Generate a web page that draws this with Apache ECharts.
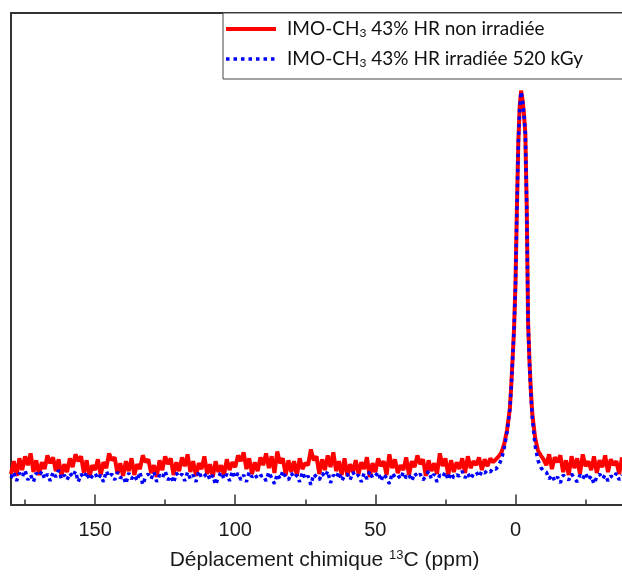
<!DOCTYPE html>
<html><head><meta charset="utf-8">
<script src="https://cdn.jsdelivr.net/npm/echarts@6/dist/echarts.min.js"></script>
<style>html,body{margin:0;padding:0;background:#fff}#c{width:622px;height:576px}</style>
</head><body><div id="c"></div>
<script>
// Chemical shift (ppm) sampling of the baseline noise
var leftStartPpm = 180;   // left baseline goes 180 -> 8 ppm, 1 ppm apart
var rightStartPpm = -11;  // right baseline goes -11 -> -38 ppm, 1 ppm apart
var peakPpm = [7,6,5,4,3,2,1.5,1,0.5,0,-0.5,-1,-1.5,-2,-2.5,-3,-3.5,-4,-4.5,-5,-5.5,-6,-7,-8,-9,-10];

var redLeft = [31,44,29,47,35,49,40,52,33,45, 30,43,36,50,42,48,34,46,29,41, 33,47,38,51,44,49,32,45,28,40,
  35,46,30,43,37,52,45,48,31,42, 29,44,34,47,30,41,36,50,43,46, 32,40,28,45,35,49,41,47,30,43,
  34,48,39,51,33,44,29,42,36,49, 31,41,28,44,33,40,30,46,35,43, 38,50,44,53,36,47,31,43,34,48,
  40,52,37,49,32,54,42,47,30,45, 33,44,29,47,36,42,40,56,45,49, 31,46,35,50,38,53,34,44,30,47,
  29,41,33,45,31,43,36,48,28,42, 33,47,39,44,30,51,37,46,32,40, 35,48,30,44,38,50,41,46,29,45,
  34,42,31,52,39,47,30,45,33,43, 36,47,32,49,37,44,40,48,35,46, 39,47,43];
var redPeak = [46,49,53,62,76,98,122,150,180,225,300,368,405,421,412,398,378,305,185,145,115,92,68,55,50,46];
var redRight = [40,51,36,48,43,50,33,45,30,49, 37,47,31,51,39,44,35,49,32,45, 38,50,33,46,40,44,31,48];

var blueLeft = [27,33,24,32,28,35,25,30,23,32, 29,34,26,31,24,33,28,35,26,30, 25,32,28,34,23,31,27,33,25,29,
  32,26,30,23,34,28,31,25,33,27, 29,21,32,26,30,24,33,20,28,31, 26,33,23,30,27,34,25,29,22,32,
  28,31,24,33,26,30,23,34,27,29, 32,25,30,20,28,33,26,31,24,34, 27,32,25,30,23,33,28,31,26,29,
  30,24,33,27,21,31,26,34,28,25, 32,27,30,23,33,26,29,20,31,28, 25,32,28,34,22,30,27,33,24,29,
  31,25,33,28,30,23,32,26,34,27, 29,33,24,31,27,21,32,28,30,26, 33,27,30,24,32,28,31,25,29,34,
  26,31,23,30,28,33,25,32,27,30, 29,34,27,32,26,31,33,28,34,32, 35,33,37];
var bluePeak = [36,40,46,58,74,97,121,149,179,224,299,367,404,420,411,397,377,304,184,143,112,88,60,45,38,34];
var blueRight = [33,26,30,24,28,22,30,27,25,31, 27,23,30,26,32,25,29,21,28,31, 26,30,24,29,27,32,25,30];

var majorTicks = [150, 100, 50, 0];
var minorTicks = [175, 125, 75, 25, -25];
var seriesNames = ['IMO-CH3 43% HR non irradiée', 'IMO-CH3 43% HR irradiée 520 kGy'];

function build(left, peak, right) {
  var d = [];
  left.forEach(function (v, i) { d.push([leftStartPpm - i, v]); });
  peak.forEach(function (v, i) { d.push([peakPpm[i], v]); });
  right.forEach(function (v, i) { d.push([rightStartPpm - i, v]); });
  return d;
}

var chart = echarts.init(document.getElementById('c'), null, {renderer: 'canvas'});
var axisCol = '#333';
var baseX = {type: 'value', inverse: true, min: -38, max: 180, gridIndex: 0, splitLine: {show: false}};
chart.setOption({
  animation: false,
  backgroundColor: '#fff',
  grid: {left: 11, right: -3, top: 13, bottom: 63},
  legend: {
    left: 223, top: 13, orient: 'vertical',
    backgroundColor: '#fff', borderColor: '#444', borderWidth: 1,
    padding: [6, 100, 10, 1], itemGap: 10, itemWidth: 50, itemHeight: 14,
    itemStyle: {opacity: 0},
    data: [
      {name: seriesNames[0], lineStyle: {width: 4, color: '#ff0000'}},
      {name: seriesNames[1], lineStyle: {width: 3.5, color: '#0000ff', type: [3.5, 4]}}
    ],
    formatter: function (n) { return n.replace('CH3', 'CH{sub|3}'); },
    textStyle: {fontFamily: 'Lato', fontSize: 19, color: '#111', lineHeight: 20, padding: [0, 0, 0, 6],
      rich: {sub: {fontFamily: 'Lato', fontSize: 12, verticalAlign: 'bottom', lineHeight: 12, color: '#111'}}}
  },
  xAxis: [
    Object.assign({}, baseX, {
      position: 'bottom',
      axisLine: {show: true, onZero: false, lineStyle: {color: axisCol, width: 2}},
      axisTick: {show: true, inside: true, length: 10, lineStyle: {color: axisCol, width: 1.5}, customValues: majorTicks},
      axisLabel: {show: true, customValues: majorTicks, fontFamily: 'Liberation Sans', fontSize: 20, color: '#1a1a1a', margin: 16},
      name: '{a|Déplacement chimique }{sup|13}{a|C (ppm)}',
      nameLocation: 'middle', nameGap: 44,
      nameTextStyle: {padding: [0, 0, 0, 16], rich: {
        a: {fontFamily: 'Liberation Sans', fontSize: 21, color: '#1a1a1a', lineHeight: 24},
        sup: {fontFamily: 'Liberation Sans', fontSize: 13, color: '#1a1a1a', verticalAlign: 'top', lineHeight: 13}}}
    }),
    Object.assign({}, baseX, {
      position: 'bottom',
      axisLine: {show: false},
      axisTick: {show: true, inside: true, length: 5, lineStyle: {color: axisCol, width: 1.5}, customValues: minorTicks},
      axisLabel: {show: false}
    }),
    Object.assign({}, baseX, {
      position: 'top',
      axisLine: {show: true, onZero: false, lineStyle: {color: axisCol, width: 2}},
      axisTick: {show: false}, axisLabel: {show: false}
    })
  ],
  yAxis: {type: 'value', min: 0, max: 500,
    axisLine: {show: true, onZero: false, lineStyle: {color: axisCol, width: 2}},
    axisTick: {show: false}, axisLabel: {show: false}, splitLine: {show: false}},
  series: [
    {name: seriesNames[0], type: 'line', xAxisIndex: 0, symbol: 'none', clip: true,
      lineStyle: {color: '#ff0000', width: 4}, itemStyle: {color: '#ff0000'},
      data: build(redLeft, redPeak, redRight)},
    {name: seriesNames[1], type: 'line', xAxisIndex: 0, symbol: 'none', clip: true,
      lineStyle: {color: '#0000ff', width: 3.5, type: [3.5, 4]}, itemStyle: {color: '#0000ff'},
      data: build(blueLeft, bluePeak, blueRight)}
  ]
});
</script></body></html>
